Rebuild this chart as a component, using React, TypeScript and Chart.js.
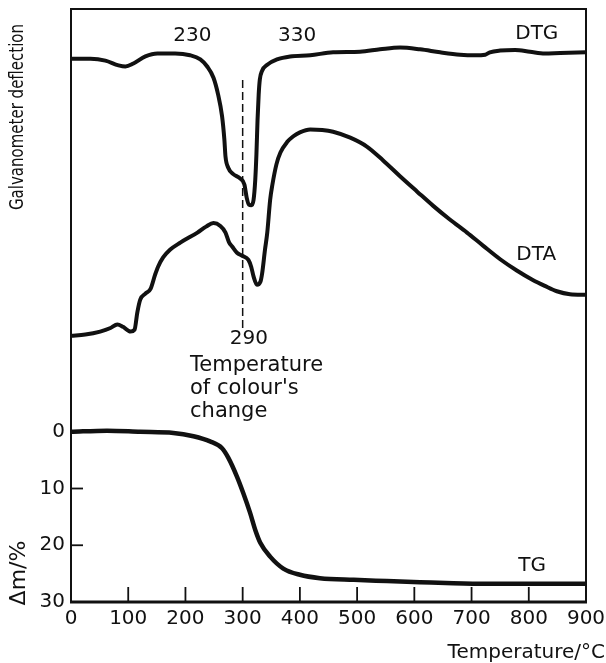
import React, { useEffect, useRef } from "react";
import { Chart, registerables } from "chart.js";

Chart.register(...registerables);

// ---- axis ticks ----
const tempTicks = [0, 100, 200, 300, 400, 500, 600, 700, 800, 900];
const massLossTicks = [0, 10, 20, 30];

// ---- DTG curve (temperature °C, galvanometer deflection, arbitrary units) ----
const dtgTemp = [0, 34, 60, 83, 95, 109, 130, 151, 182, 208, 226, 238, 249, 257, 264, 268, 270, 275, 283, 296, 303, 307, 311, 315, 319, 322, 324, 326, 328, 330, 334, 343, 360, 383, 418, 458, 505, 540, 575, 610, 645, 680, 706, 724, 732, 750, 776, 802, 828, 855, 900];
const dtgDefl = [91.6, 91.6, 91.3, 90.5, 90.3, 90.8, 92.0, 92.5, 92.5, 92.2, 91.5, 90.3, 88.4, 85.6, 81.9, 78.0, 75.1, 73.2, 72.2, 71.4, 70.4, 68.2, 67.0, 66.9, 67.8, 71.2, 75.4, 81.3, 85.6, 88.1, 89.6, 90.6, 91.5, 92.0, 92.2, 92.7, 92.8, 93.2, 93.5, 93.2, 92.7, 92.3, 92.2, 92.3, 92.7, 93.0, 93.1, 92.8, 92.5, 92.6, 92.7];

// ---- DTA curve ----
const dtaTemp = [0, 25, 51, 69, 81, 91, 104, 111, 116, 121, 130, 139, 147, 152, 161, 173, 191, 221, 236, 249, 261, 270, 276, 282, 290, 299, 310, 315, 319, 325, 331, 334, 339, 343, 348, 352, 359, 366, 378, 388, 400, 418, 439, 458, 488, 517, 545, 575, 605, 633, 662, 692, 720, 750, 779, 807, 828, 849, 872, 900];
const dtaDefl = [44.9, 45.1, 45.6, 46.2, 46.8, 46.4, 45.6, 45.9, 48.9, 51.0, 52.0, 52.8, 55.2, 56.5, 58.1, 59.4, 60.6, 62.3, 63.3, 63.9, 63.4, 62.3, 60.7, 59.9, 58.9, 58.4, 57.7, 56.5, 54.9, 53.5, 54.0, 55.4, 59.4, 62.3, 67.8, 70.4, 73.8, 75.8, 77.6, 78.5, 79.2, 79.7, 79.6, 79.3, 78.3, 76.8, 74.5, 71.8, 69.2, 66.8, 64.5, 62.3, 60.1, 57.8, 55.9, 54.3, 53.3, 52.4, 51.9, 51.8];

// ---- TG curve (mass loss Δm / %) ----
const tgTemp = [0, 63, 121, 179, 214, 243, 264, 275, 290, 301, 313, 322, 331, 348, 371, 400, 435, 494, 552, 610, 668, 727, 900];
const tgLoss = [0, -0.2, 0, 0.2, 0.8, 1.7, 2.9, 4.6, 7.9, 10.8, 14.3, 17.3, 19.6, 22.0, 24.1, 25.2, 25.8, 26.1, 26.3, 26.5, 26.7, 26.8, 26.8];

// ---- colour change marker ----
const colourChangeTemp = 300;
const colourChangeSpan = [46.2, 88.4];

const INK = "#111";
const FONT = '"DejaVu Sans", sans-serif';

const framePlugin = {
  id: "frameAndText",
  afterDatasetsDraw(chart: any) {
    const { ctx, chartArea: a, scales } = chart;
    const x = scales.x;
    const y = scales.y;
    const y2 = scales.y2;
    ctx.save();
    ctx.strokeStyle = INK;
    ctx.fillStyle = INK;
    ctx.lineCap = "butt";

    // frame
    ctx.lineWidth = 2;
    ctx.strokeRect(a.left, a.top, a.right - a.left, a.bottom - a.top);
    ctx.lineWidth = 3;
    ctx.beginPath();
    ctx.moveTo(a.left - 1, a.bottom);
    ctx.lineTo(a.right + 1, a.bottom);
    ctx.stroke();

    // inward ticks
    ctx.lineWidth = 1.8;
    tempTicks.forEach((v) => {
      if (v === tempTicks[0] || v === tempTicks[tempTicks.length - 1]) return;
      const px = x.getPixelForValue(v);
      ctx.beginPath();
      ctx.moveTo(px, a.bottom);
      ctx.lineTo(px, a.bottom - 15);
      ctx.stroke();
    });
    massLossTicks.forEach((v) => {
      if (v === 0 || v === 30) return;
      const py = y.getPixelForValue(v);
      ctx.beginPath();
      ctx.moveTo(a.left, py);
      ctx.lineTo(a.left + 12, py);
      ctx.stroke();
    });

    // curve labels
    ctx.textAlign = "center";
    ctx.textBaseline = "middle";
    ctx.font = `20px ${FONT}`;
    const lab = (t: string, tx: number, ty: number, sc: any) => {
      ctx.fillText(t, x.getPixelForValue(tx), sc.getPixelForValue(ty));
    };
    lab("230", 212, 95.5, y2);
    lab("330", 395, 95.5, y2);
    lab("DTG", 814, 95.9, y2);
    lab("DTA", 813, 58.6, y2);
    lab("290", 311, 44.4, y2);
    lab("TG", 806, 23.6, y);

    ctx.textAlign = "left";
    ctx.textBaseline = "alphabetic";
    ctx.font = `21px ${FONT}`;
    lab("Temperature", 208, 39.0, y2);
    lab("of colour's", 208, 35.1, y2);
    lab("change", 208, 31.2, y2);

    // axis titles
    ctx.font = `20px ${FONT}`;
    ctx.textAlign = "right";
    ctx.fillText("Temperature/°C", chart.width - 1, chart.height - 5);

    ctx.save();
    ctx.translate(18, 117);
    ctx.rotate(-Math.PI / 2);
    ctx.scale(1, 1.35);
    ctx.textAlign = "center";
    ctx.textBaseline = "middle";
    ctx.font = `15px ${FONT}`;
    ctx.fillText("Galvanometer deflection", 0, 0);
    ctx.restore();

    ctx.save();
    ctx.translate(19, 573);
    ctx.rotate(-Math.PI / 2);
    ctx.textAlign = "center";
    ctx.textBaseline = "middle";
    ctx.font = `22px ${FONT}`;
    ctx.fillText("Δm/%", 0, 0);
    ctx.restore();

    ctx.restore();
  },
};

export default function App() {
  const ref = useRef<HTMLCanvasElement>(null);

  useEffect(() => {
    const toPts = (xs: number[], ys: number[]) => xs.map((v, i) => ({ x: v, y: ys[i] }));
    const chart = new Chart(ref.current as HTMLCanvasElement, {
      type: "line",
      data: {
        datasets: [
          {
            label: "DTG",
            data: toPts(dtgTemp, dtgDefl),
            yAxisID: "y2",
            borderColor: INK,
            borderWidth: 4,
            cubicInterpolationMode: "monotone",
            pointRadius: 0,
          },
          {
            label: "DTA",
            data: toPts(dtaTemp, dtaDefl),
            yAxisID: "y2",
            borderColor: INK,
            borderWidth: 4,
            cubicInterpolationMode: "monotone",
            pointRadius: 0,
          },
          {
            label: "TG",
            data: toPts(tgTemp, tgLoss),
            yAxisID: "y",
            borderColor: INK,
            borderWidth: 4.5,
            cubicInterpolationMode: "monotone",
            pointRadius: 0,
          },
          {
            label: "colour change",
            data: colourChangeSpan.map((v) => ({ x: colourChangeTemp, y: v })),
            yAxisID: "y2",
            borderColor: INK,
            borderWidth: 1.5,
            borderDash: [8, 4],
            pointRadius: 0,
          },
        ],
      },
      options: {
        animation: false,
        responsive: false,
        devicePixelRatio: 1,
        layout: { padding: { left: 0, right: 20, top: 9, bottom: 0 } },
        plugins: { legend: { display: false }, tooltip: { enabled: false } },
        scales: {
          x: {
            type: "linear",
            min: 0,
            max: 900,
            afterBuildTicks: (s: any) => {
              s.ticks = tempTicks.map((v) => ({ value: v }));
            },
            afterFit: (s: any) => {
              s.height = 61;
              s.paddingLeft = 0;
              s.paddingRight = 0;
            },
            grid: { display: false, drawTicks: false },
            border: { display: false },
            ticks: {
              color: INK,
              font: { family: FONT, size: 20 },
              padding: 5,
              maxRotation: 0,
              autoSkip: false,
            },
          },
          y: {
            type: "linear",
            position: "left",
            reverse: true,
            min: -74.5,
            max: 30,
            afterBuildTicks: (s: any) => {
              s.ticks = massLossTicks.map((v) => ({ value: v }));
            },
            afterFit: (s: any) => {
              s.width = 71;
              s.paddingTop = 0;
              s.paddingBottom = 0;
            },
            grid: { display: false, drawTicks: false },
            border: { display: false },
            ticks: {
              color: INK,
              font: { family: FONT, size: 20 },
              padding: 6,
              autoSkip: false,
            },
          },
          y2: {
            type: "linear",
            display: false,
            min: 0,
            max: 100,
          },
        },
      },
      plugins: [framePlugin],
    } as any);
    return () => chart.destroy();
  }, []);

  return (
    <canvas
      ref={ref}
      width={606}
      height={663}
      style={{ position: "absolute", left: 0, top: 0, width: 606, height: 663 }}
    />
  );
}
